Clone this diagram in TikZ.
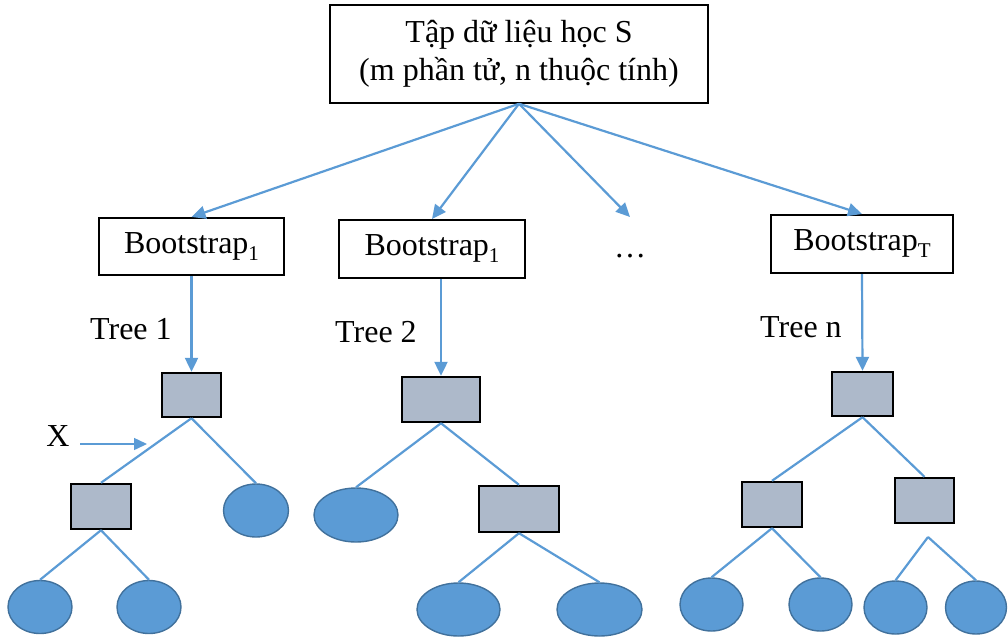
\documentclass[tikz,border=0pt]{standalone}
\usepackage{fontspec}
\setmainfont{Liberation Serif}
\usetikzlibrary{arrows.meta,shapes.geometric}
\definecolor{lineblue}{HTML}{5B9BD5}
\definecolor{leafblue}{HTML}{5B9BD5}
\definecolor{leafedge}{HTML}{41719C}
\definecolor{splitfill}{HTML}{ADB9CA}
\newcommand{\lowsub}[1]{\raisebox{-7pt}{\fontsize{21}{21}\selectfont #1}}
\begin{document}
\begin{tikzpicture}[x=1pt,y=-1pt,
  txt/.style={font=\fontsize{32}{38}\selectfont, inner sep=0pt},
  databox/.style={draw=black, line width=1.5pt, rectangle, inner sep=0pt, align=center, font=\fontsize{32}{38}\selectfont},
  bootbox/.style={draw=black, line width=2pt, rectangle, inner sep=0pt, font=\fontsize{32}{38}\selectfont},
  splitnode/.style={draw=black, line width=2.4pt, fill=splitfill, rectangle, inner sep=0pt},
  leafnode/.style={draw=leafedge, line width=1.4pt, fill=leafblue, ellipse, inner sep=0pt},
  conn/.style={draw=lineblue, line width=2.2pt},
  arr/.style={conn, -{Triangle[length=14pt,width=13pt]}},
  smallarr/.style={draw=lineblue, line width=1.5pt, -{Triangle[length=13pt,width=12pt]}}
]
\useasboundingbox (0,0) rectangle (1008,638);

% top data box
\node[databox, minimum width=378pt, minimum height=98pt] (top) at (519,54)
  {Tập dữ liệu học S\\(m phần tử, n thuộc tính)};

% bootstrap boxes
\node[bootbox, minimum width=185pt, minimum height=57pt] (b1) at (191.5,246.5) {Bootstrap\lowsub{1}};
\node[bootbox, minimum width=186pt, minimum height=58pt] (b2) at (432,249) {Bootstrap\lowsub{1}};
\node[bootbox, minimum width=182pt, minimum height=58pt] (bT) at (862,244) {Bootstrap\lowsub{T}};
\node[txt, anchor=base] (dots) at (630,257) {…};
\coordinate (dotsarrow) at (630,217);

\draw[arr] (top.south) -- (b1.north);
\draw[arr] (top.south) -- (b2.north);
\draw[arr] (top.south) -- (dotsarrow);
\draw[arr] (top.south) -- (bT.north);

% tree labels
\node[txt, anchor=base west] (t1) at (90,339) {Tree 1};
\node[txt, anchor=base west] (t2) at (335,342) {Tree 2};
\node[txt, anchor=base west] (tn) at (760,337) {Tree n};

% Tree 1
\node[splitnode, minimum width=59pt, minimum height=44pt] (r1) at (191.5,395) {};
\node[splitnode, minimum width=60pt, minimum height=45pt] (c1) at (101,506.5) {};
\node[leafnode, minimum width=65pt, minimum height=53pt] (l1a) at (256,510.5) {};
\node[leafnode, minimum width=64pt, minimum height=53pt] (l1b) at (40,607) {};
\node[leafnode, minimum width=64pt, minimum height=53pt] (l1c) at (149,607) {};
\draw[arr] (b1.south) -- (r1.north);
\draw[conn] (r1.south) -- (c1.north);
\draw[conn] (r1.south) -- (l1a.north);
\draw[conn] (c1.south) -- (l1b.north);
\draw[conn] (c1.south) -- (l1c.north);

% X input
\node[txt] (xlab) at (58,436) {X};
\coordinate (xs) at (80,444);
\coordinate (xe) at (147,444);
\draw[smallarr] (xs) -- (xe);

% Tree 2
\node[splitnode, minimum width=78pt, minimum height=45pt] (r2) at (441,399.5) {};
\node[leafnode, minimum width=84pt, minimum height=54pt] (l2a) at (356,515) {};
\node[splitnode, minimum width=80pt, minimum height=46pt] (c2) at (519,509) {};
\node[leafnode, minimum width=83pt, minimum height=53pt] (l2b) at (458.5,609.5) {};
\node[leafnode, minimum width=85pt, minimum height=53pt] (l2c) at (599.5,609.5) {};
\draw[arr] (r2.north |- b2.south) -- (r2.north);
\draw[conn] (r2.south) -- (l2a.north);
\draw[conn] (r2.south) -- (c2.north);
\draw[conn] (c2.south) -- (l2b.north);
\draw[conn] (c2.south) -- (l2c.north);

% Tree n
\node[splitnode, minimum width=61pt, minimum height=44pt] (r3) at (862.5,394) {};
\node[splitnode, minimum width=60pt, minimum height=45pt] (c3) at (772,504.5) {};
\node[splitnode, minimum width=59pt, minimum height=45pt] (c4) at (924.5,500.5) {};
\node[leafnode, minimum width=63pt, minimum height=53pt] (l3a) at (711.5,604.5) {};
\node[leafnode, minimum width=63pt, minimum height=53pt] (l3b) at (820.5,604.5) {};
\node[leafnode, minimum width=63pt, minimum height=53pt] (l3c) at (895.5,607.5) {};
\node[leafnode, minimum width=61pt, minimum height=53pt] (l3d) at (976,607.5) {};
\coordinate (c4gap) at (928,537);
\draw[arr] (bT.south) -- (r3.north);
\draw[conn] (r3.south) -- (c3.north);
\draw[conn] (r3.south) -- (c4.north);
\draw[conn] (c3.south) -- (l3a.north);
\draw[conn] (c3.south) -- (l3b.north);
\draw[conn] (c4gap) -- (l3c.north);
\draw[conn] (c4gap) -- (l3d.north);
\end{tikzpicture}
\end{document}
